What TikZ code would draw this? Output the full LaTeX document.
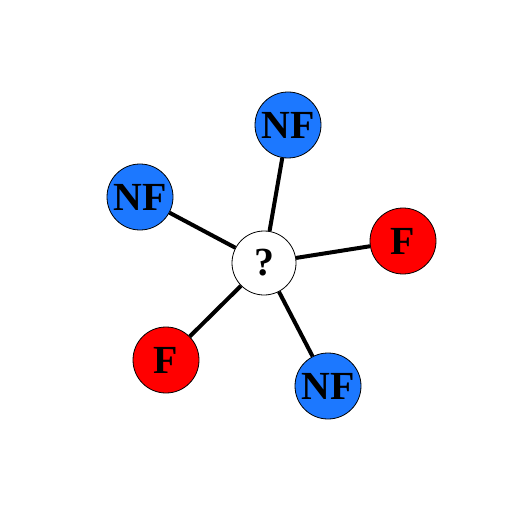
\documentclass[tikz,border=0pt]{standalone}
\usepackage{fontspec}
\setmainfont{Liberation Serif}
\usepackage{tikz}
\usetikzlibrary{positioning}
\definecolor{nfblue}{RGB}{28,120,255}
\definecolor{fred}{RGB}{255,0,0}

\begin{document}
\begin{tikzpicture}[x=1bp, y=-1bp,
    vertex/.style={circle, draw=black, line width=0.8pt, minimum size=66bp, inner sep=0pt, font=\fontsize{40}{40}\selectfont\bfseries},
    nf/.style={vertex, fill=nfblue},
    f/.style={vertex, fill=fred},
    link/.style={line width=4bp}]
    \useasboundingbox (0,0) rectangle (506,531);
    \node[vertex, fill=white, minimum size=64bp] (c) at (264,263) {?};
    \node[nf] (n1) at (288,125) {NF};
    \node[nf] (n2) at (140,197) {NF};
    \node[f] (f1) at (403,241) {F};
    \node[f] (f2) at (166,360) {F};
    \node[nf] (n3) at (328,386) {NF};

    \foreach \v in {n1,n2,f1,f2,n3}
        \draw[link] (c) -- (\v);
\end{tikzpicture}
\end{document}
